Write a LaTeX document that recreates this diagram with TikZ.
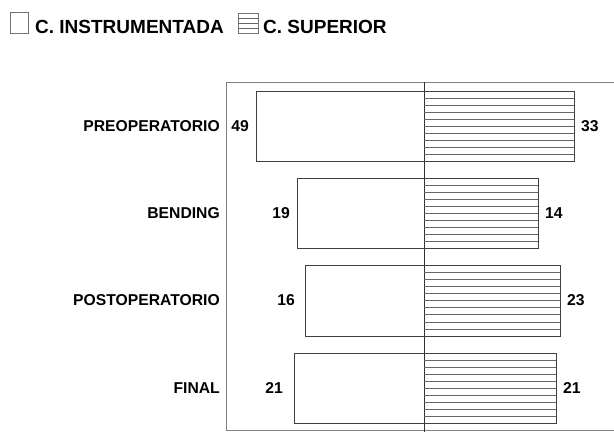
\documentclass[tikz,border=0pt]{standalone}
\usepackage{fontspec}
\setmainfont{Liberation Sans}
\begin{document}
\begin{tikzpicture}[x=1pt,y=-1pt,
    lbl/.style={font=\fontsize{15.7}{18}\selectfont\bfseries, inner sep=0pt},
    key/.style={font=\fontsize{19}{22}\selectfont\bfseries, inner sep=0pt, anchor=west},
    bar/.style={draw=black!75, line width=0.7pt},
    hatch/.style={draw=black!60, line width=0.5pt}]
    \useasboundingbox (0,0) rectangle (614,432);

    % legend
    \draw[bar, draw=black!55] (10,12) rectangle (28,33);
    \node[key] (instr) at (35,26.5) {C. INSTRUMENTADA};
    \draw[bar, draw=black!55] (238,13) rectangle (258,33);
    \foreach \y in {18,23,28} \draw[hatch] (238,\y) -- (258,\y);
    \node[key] (sup) at (263,26.5) {C. SUPERIOR};

    % frame and middle line
    \draw[black!50, line width=0.6pt] (614,82) -- (226,82) -- (226,430) -- (614,430);
    \draw[black!80, line width=0.6pt] (424,82) -- (424,432);

    % bars: left/right/top/bottom/gap/left value/right value/label
    \foreach \l/\r/\t/\b/\g/\vl/\vr/\name [count=\i] in
      {256/574/91/161/7/49/33/PREOPERATORIO,
       297/538/178/248/7/19/14/BENDING,
       305/560/265/336/10/16/23/POSTOPERATORIO,
       294/556/353/423/11/21/21/FINAL}{
      \draw[bar] (\l,\t) rectangle (\r,\b);
      \foreach \k in {1,...,9}
        \draw[hatch] (424,{\t+\k*(\b-\t)/10}) -- (\r,{\t+\k*(\b-\t)/10});
      \node[lbl, anchor=east] (cat\i) at (220,{(\t+\b)/2}) {\name};
      \node[lbl, anchor=east] (lv\i) at ({\l-\g},{(\t+\b)/2}) {\vl};
      \node[lbl, anchor=west] (rv\i) at ({\r+7},{(\t+\b)/2}) {\vr};
    }
\end{tikzpicture}
\end{document}
